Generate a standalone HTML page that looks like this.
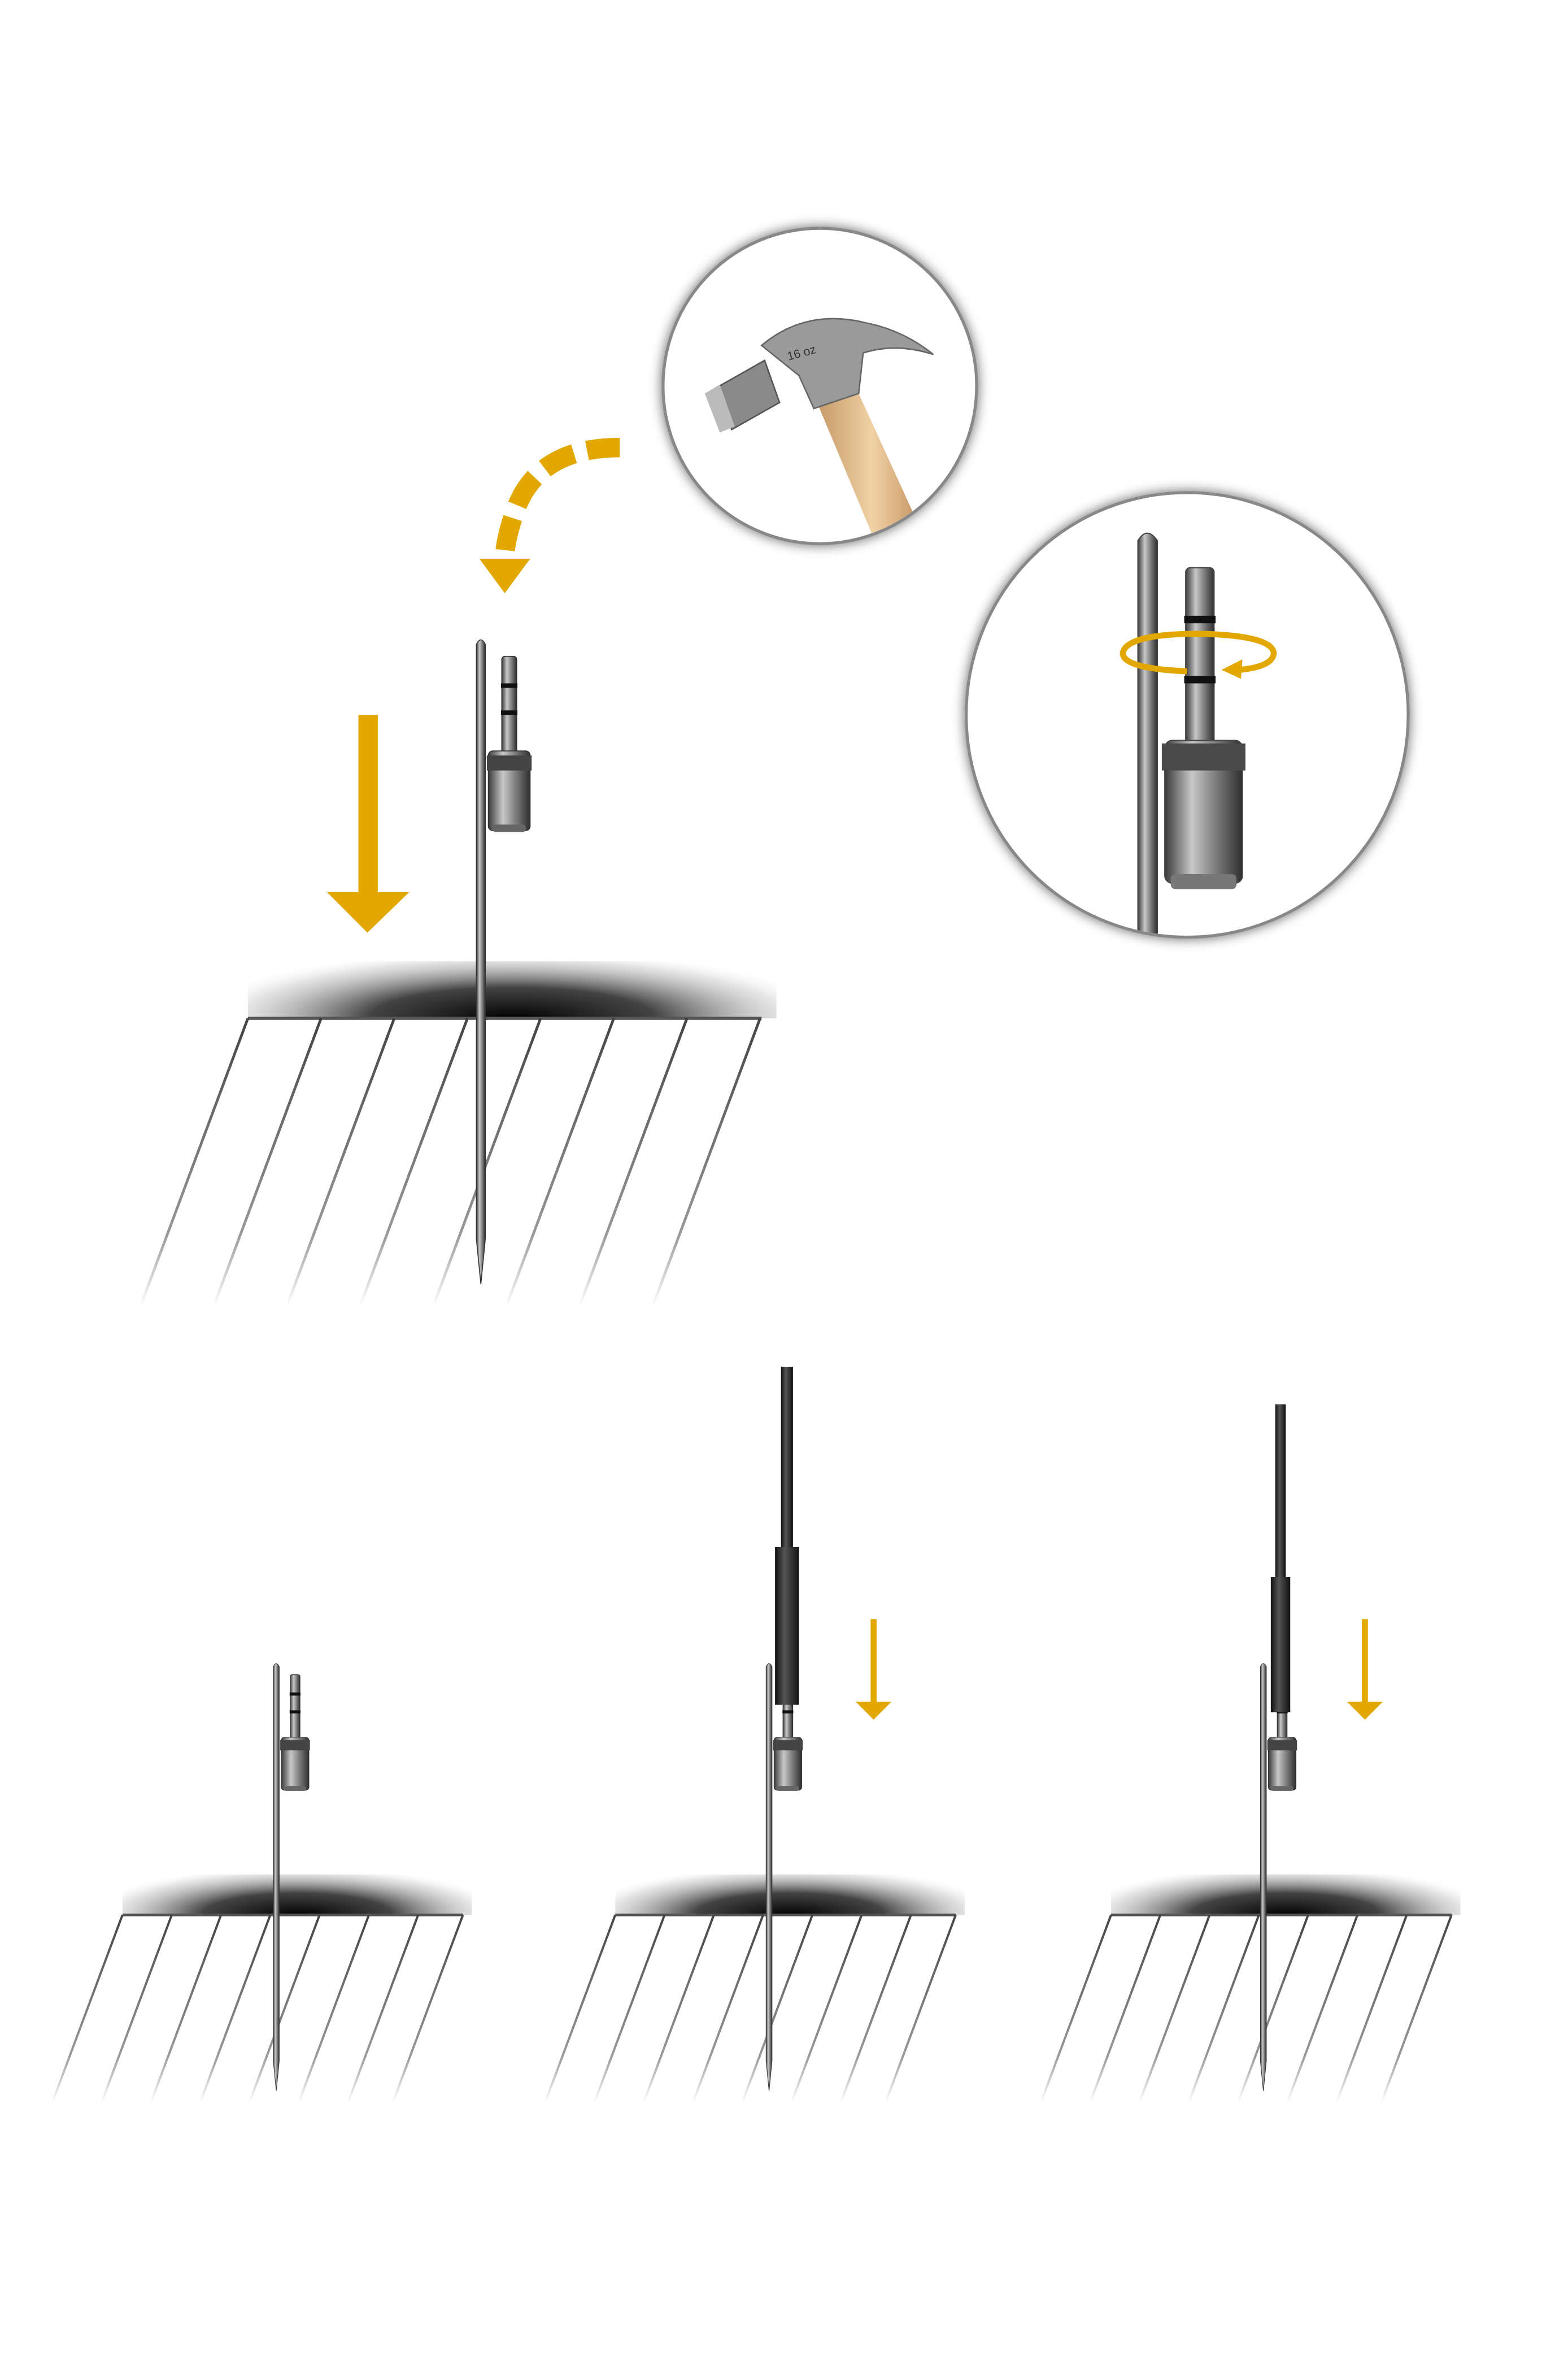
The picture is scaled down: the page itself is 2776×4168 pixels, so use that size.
<!DOCTYPE html>
<html><head><meta charset="utf-8"><style>
html,body{margin:0;padding:0;background:#fff;width:2776px;height:4168px;overflow:hidden}
svg{display:block}
</style></head><body>
<svg width="2776" height="4168" viewBox="0 0 1050 1568" preserveAspectRatio="none" xmlns="http://www.w3.org/2000/svg">
<defs>
<linearGradient id="metal" x1="0" x2="1" y1="0" y2="0">
<stop offset="0" stop-color="#3a3a3a"/><stop offset="0.35" stop-color="#c8c8c8"/><stop offset="0.6" stop-color="#8a8a8a"/><stop offset="1" stop-color="#2e2e2e"/></linearGradient>
<linearGradient id="dark" x1="0" x2="1"><stop offset="0" stop-color="#111"/><stop offset="0.4" stop-color="#555"/><stop offset="1" stop-color="#111"/></linearGradient>
<linearGradient id="wood" x1="0" x2="1"><stop offset="0" stop-color="#c79a68"/><stop offset="0.5" stop-color="#f0d2a6"/><stop offset="1" stop-color="#c08c58"/></linearGradient>
<filter id="ds" x="-20%" y="-20%" width="140%" height="140%"><feDropShadow dx="0" dy="0" stdDeviation="4" flood-color="#000" flood-opacity="0.6"/></filter>
<g id="stake">
<path d="M-3,4 Q0,-2 3,4 L3,400 L0,430 L-3,400 Z" fill="url(#metal)" stroke="#333" stroke-width="0.6"/>
<rect x="14" y="12" width="10" height="66" rx="2" fill="url(#metal)" stroke="#333" stroke-width="0.6"/>
<rect x="13.5" y="30" width="11" height="3" fill="#111"/>
<rect x="13.5" y="48" width="11" height="3" fill="#111"/>
<rect x="5" y="75" width="28" height="53" rx="3" fill="url(#metal)" stroke="#333" stroke-width="0.6"/>
<rect x="4" y="78" width="30" height="10" fill="#444"/>
<rect x="8" y="124" width="22" height="5" rx="2" fill="#666"/>
</g>
<linearGradient id="hf1" gradientUnits="userSpaceOnUse" x1="0" y1="678" x2="0" y2="870"><stop offset="0" stop-color="#444"/><stop offset="0.75" stop-color="#999"/><stop offset="1" stop-color="#fff"/></linearGradient>
<linearGradient id="hf2" gradientUnits="userSpaceOnUse" x1="0" y1="1275" x2="0" y2="1400"><stop offset="0" stop-color="#444"/><stop offset="0.75" stop-color="#999"/><stop offset="1" stop-color="#fff"/></linearGradient>
<radialGradient id="sh2" cx="0.5" cy="1" r="0.6" fx="0.5" fy="1" gradientTransform="matrix(1 0 0 2 0 -1)"><stop offset="0" stop-color="#000"/><stop offset="0.45" stop-color="#222" stop-opacity="0.85"/><stop offset="0.85" stop-color="#bbb" stop-opacity="0.4"/><stop offset="1" stop-color="#fff" stop-opacity="0.1"/></radialGradient>
</defs>
<rect width="1050" height="1568" fill="#fff"/>

<rect x="166" y="640" width="354" height="38" fill="url(#sh2)"/>
<line x1="166" y1="678" x2="510" y2="678" stroke="#555" stroke-width="2"/>
<g stroke="url(#hf1)" stroke-width="1.8">
<line x1="166" y1="678" x2="94" y2="870"/><line x1="215" y1="678" x2="143" y2="870"/>
<line x1="264" y1="678" x2="192" y2="870"/><line x1="313" y1="678" x2="241" y2="870"/>
<line x1="362" y1="678" x2="290" y2="870"/><line x1="411" y1="678" x2="339" y2="870"/>
<line x1="460" y1="678" x2="388" y2="870"/><line x1="509" y1="678" x2="437" y2="870"/>
</g>
<use href="#stake" x="322" y="425"/>

<rect x="240" y="476" width="13" height="122" fill="#e3a800"/>
<polygon points="219,594 274,594 246,621" fill="#e3a800"/>

<path d="M415,298 Q360,298 345,340 Q338,360 338,372" fill="none" stroke="#e3a800" stroke-width="13" stroke-dasharray="22 9"/>
<polygon points="321,372 355,372 338,395" fill="#e3a800"/>

<circle cx="549" cy="257" r="105" fill="#fff" stroke="#888" stroke-width="2" filter="url(#ds)"/>
<clipPath id="hc"><circle cx="549" cy="257" r="104"/></clipPath>
<g clip-path="url(#hc)">
<path d="M548,270 L575,262 L620,360 L590,370 Z" fill="url(#wood)"/>
<path d="M510,230 Q540,205 580,215 Q605,220 625,236 Q600,228 578,235 L575,262 L545,272 L535,250 Z" fill="#9a9a9a" stroke="#666" stroke-width="1"/>
<path d="M480,258 L512,240 L522,268 L490,286 Z" fill="#8a8a8a" stroke="#555" stroke-width="1"/>
<path d="M472,262 L482,256 L492,284 L482,288 Z" fill="#bbb"/>
<text x="528" y="240" font-family="Liberation Sans, sans-serif" font-size="8" fill="#333" transform="rotate(-15 528 240)">16 oz</text>
</g>

<circle cx="795" cy="476" r="148" fill="#fff" stroke="#888" stroke-width="2" filter="url(#ds)"/>
<clipPath id="dc"><circle cx="795" cy="476" r="147"/></clipPath>
<g clip-path="url(#dc)">
<path d="M762,360 Q768,350 775,360 L775,640 L762,640 Z" fill="url(#metal)" stroke="#444" stroke-width="0.8"/>
<rect x="794" y="378" width="19" height="120" rx="3" fill="url(#metal)" stroke="#444" stroke-width="0.8"/>
<rect x="793" y="410" width="21" height="5" fill="#111"/>
<rect x="793" y="450" width="21" height="5" fill="#111"/>
<rect x="780" y="493" width="52" height="95" rx="5" fill="url(#metal)" stroke="#444" stroke-width="0.8"/>
<rect x="778" y="495" width="56" height="18" fill="#4a4a4a"/>
<rect x="784" y="582" width="44" height="10" rx="3" fill="#777"/>
<path d="M795,447 Q750,445 752,434 Q756,422 803,422 Q852,423 853,435 Q852,444 830,446" fill="none" stroke="#e3a800" stroke-width="4"/>
<polygon points="818,446 832,439 831,452" fill="#e3a800"/>
</g>

<g id="g2">
<rect x="82" y="1248" width="234" height="27" fill="url(#sh2)"/>
<line x1="82" y1="1275" x2="310" y2="1275" stroke="#555" stroke-width="1.8"/>
<g stroke="url(#hf2)" stroke-width="1.5">
<line x1="82" y1="1275" x2="35" y2="1400"/><line x1="115" y1="1275" x2="68" y2="1400"/>
<line x1="148" y1="1275" x2="101" y2="1400"/><line x1="181" y1="1275" x2="134" y2="1400"/>
<line x1="214" y1="1275" x2="167" y2="1400"/><line x1="247" y1="1275" x2="200" y2="1400"/>
<line x1="280" y1="1275" x2="233" y2="1400"/><line x1="310" y1="1275" x2="263" y2="1400"/>
</g>
</g>
<use href="#g2" x="330"/>
<use href="#g2" x="662"/>

<g transform="translate(185,1107) scale(0.663)"><use href="#stake"/></g>
<g transform="translate(515,1107) scale(0.663)"><use href="#stake"/></g>
<g transform="translate(846,1107) scale(0.663)"><use href="#stake"/></g>

<rect x="523" y="910" width="8" height="125" fill="url(#dark)"/>
<rect x="519" y="1030" width="16" height="105" fill="url(#dark)"/>
<rect x="854" y="935" width="7" height="118" fill="url(#dark)"/>
<rect x="851" y="1050" width="13" height="90" fill="url(#dark)"/>

<rect x="583" y="1078" width="4" height="56" fill="#e3a800"/>
<polygon points="573,1133 597,1133 585,1145" fill="#e3a800"/>
<rect x="912" y="1078" width="4" height="56" fill="#e3a800"/>
<polygon points="902,1133 926,1133 914,1145" fill="#e3a800"/>
</svg>
</body></html>
